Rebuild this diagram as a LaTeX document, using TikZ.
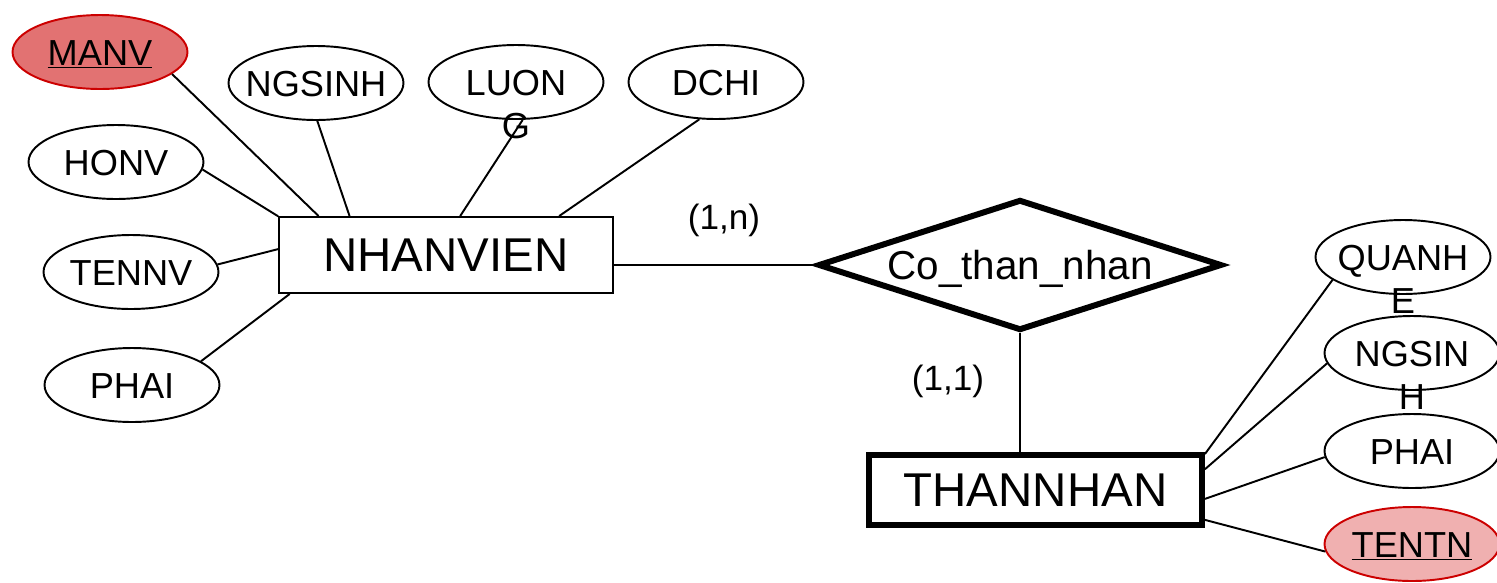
\documentclass[tikz,border=0pt]{standalone}
\usepackage{fontspec}
\setmainfont{Liberation Sans}
\usepackage{tikz}
\usetikzlibrary{shapes.geometric}
\definecolor{keyred}{RGB}{204,0,0}
\definecolor{keyfill}{RGB}{226,114,114}
\definecolor{keyfill-light}{RGB}{240,176,176}
% attribute name that runs onto a second line
\newcommand{\wrapped}[2]{\begin{tabular}[t]{@{}c@{}}#1\\#2\end{tabular}}
\tikzset{%
	attr/.style={
		ellipse,
		draw,
		line width=1.1pt,
		minimum width=3.5cm,
		minimum height=1.48cm,
		inner sep=0pt,
		text height=14.8pt,
		text depth=0pt,
		font=\fontsize{20.6}{25}\selectfont
	},
	attr-manv/.style={ draw=keyred, fill=keyfill },
	attr-tentn/.style={ draw=keyred, fill=keyfill-light },
	entity/.style={
		rectangle,
		draw,
		line width=1.1pt,
		minimum width=6.68cm,
		minimum height=1.52cm,
		font=\fontsize{27}{32}\selectfont
	},
	entity-weak/.style={ line width=3.4pt, minimum width=6.66cm, minimum height=1.4cm },
	relation/.style={
		diamond,
		draw,
		line width=3.4pt,
		aspect=3.15,
		minimum width=8.08cm,
		minimum height=2.62cm,
		inner sep=0pt,
		text depth=0pt,
		font=\fontsize{23}{27}\selectfont
	},
	card/.style={ font=\fontsize{20}{24}\selectfont },
	link/.style={ line width=1.1pt },
}

\begin{document}
\begin{tikzpicture}[x=0.02cm, y=-0.02cm]
\useasboundingbox (0,0) rectangle (1497,582);
% entities
\node[entity] (nhanvien) at (446,255) {NHANVIEN};
\node[entity, entity-weak] (thannhan) at (1035.5,490) {THANNHAN};

% relationship
\node[relation] (cothannhan) at (1020,265) {Co\_than\_nhan};

% attributes
\foreach \n/\t/\x/\y in {manv/\underline{MANV}/100/52, ngsinh/NGSINH/316/83,
		luong/\wrapped{LUON}{G}/516/82, dchi/DCHI/716/82, honv/HONV/116/162,
		tennv/TENNV/131/272, phai/PHAI/132/385}
	\node[attr, attr-\n/.try] (\n) at (\x,\y) {\makebox[0pt]{\t}};
\foreach \n/\t/\x/\y in {quanhe/\wrapped{QUANH}{E}/1403/257, ngsinh-tn/\wrapped{NGSIN}{H}/1412/353,
		phai-tn/PHAI/1412/451, tentn/\underline{TENTN}/1412/544}
	\node[attr, attr-\n/.try] (\n) at (\x,\y) {\makebox[0pt]{\t}};

% cardinalities
\node[card] (card-nv) at (724,220) {(1,n)};
\node[card] (card-tn) at (948,381) {(1,1)};

% attribute links
\foreach \a/\p/\q in {manv/-17/163, ngsinh/-88/158, luong/-80/70, dchi/-114/19,
		honv/-5/167, tennv/5/178, phai/19/-166.5}
	\draw[link] (\a.\p) -- (nhanvien.\q);
\foreach \a/\p/\q in {quanhe/-162/12, ngsinh-tn/-173/7.5, phai-tn/-176/-3.4, tentn/-175/-10.9}
	\draw[link] (\a.\p) -- (thannhan.\q);

% relationship links
\draw[link] (nhanvien.east |- cothannhan.west) -- (cothannhan.west);
\draw[link] (cothannhan.south) -- (cothannhan.south |- thannhan.north);

\end{tikzpicture}
\end{document}
